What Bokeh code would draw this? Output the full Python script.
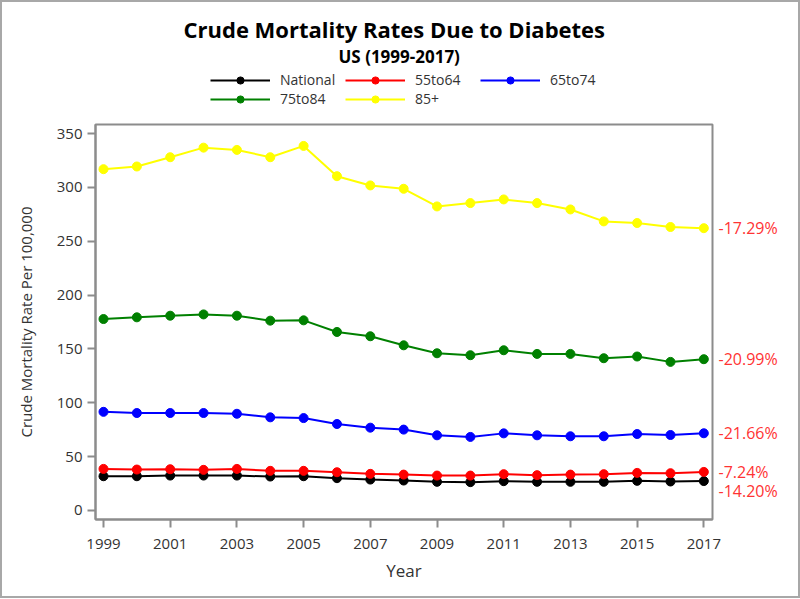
from bokeh.plotting import figure
from bokeh.layouts import column
from bokeh.models import Legend, LegendItem, Title, LinearAxis, FixedTicker, Range1d
from bokeh.embed import file_html
from bokeh.resources import INLINE

years = list(range(1999, 2018))
national = [31.8, 31.8, 32.4, 32.4, 32.4, 31.5, 31.8, 30.0, 28.7, 27.8, 26.6, 26.3, 27.2, 26.6, 26.6, 26.6, 27.5, 26.9, 27.3]
age_55to64 = [38.6, 38.0, 38.3, 37.7, 38.6, 36.8, 36.8, 35.5, 34.0, 33.3, 32.4, 32.4, 33.7, 32.8, 33.3, 33.7, 34.9, 34.6, 35.8]
age_65to74 = [91.6, 90.5, 90.5, 90.5, 89.8, 86.5, 85.8, 80.3, 76.9, 75.1, 69.8, 68.3, 71.6, 69.8, 68.9, 68.9, 71.0, 70.1, 71.7]
age_75to84 = [177.8, 179.4, 180.9, 182.1, 180.9, 176.3, 176.6, 165.8, 161.8, 153.4, 146.0, 144.2, 148.8, 145.4, 145.4, 141.4, 143.0, 138.0, 140.5]
age_85plus = [317.0, 319.5, 328.1, 337.0, 334.9, 328.1, 338.6, 310.5, 301.9, 298.8, 282.4, 285.5, 288.9, 285.5, 279.6, 268.5, 267.0, 263.3, 262.2]

series_names = ["National", "55to64", "65to74", "75to84", "85+"]
series_values = [national, age_55to64, age_65to74, age_75to84, age_85plus]
series_colors = ["black", "#ff0000", "#0000ff", "#008000", "#ffff00"]
change_labels = ["-14.20%", "-7.24%", "-21.66%", "-20.99%", "-17.29%"]

x_ticks = years[::2]
y_ticks = [0, 50, 100, 150, 200, 250, 300, 350]

FONT = "Open Sans"
GRAY = "#8c8c8c"
TEXT = "#333333"
EDGE = "#a8a8a8"

# ---- header figure: titles + legend (its ranges keep the series out of view) ----
head = figure(width=800, height=122, output_backend="svg", toolbar_location=None,
              x_range=Range1d(0, 1), y_range=Range1d(0, 1),
              x_axis_type=None, y_axis_type=None,
              min_border_left=0, min_border_right=0, min_border_bottom=0, min_border_top=67)
head.outline_line_color = None
head.xgrid.visible = False
head.ygrid.visible = False
head.border_fill_alpha = 0
head.background_fill_alpha = 0
head.styles = {"box-shadow": f"inset 2px 2px 0 {EDGE}, inset -2px 0 0 {EDGE}"}

items = []
for name, vals, col in zip(series_names, series_values, series_colors):
    ln = head.line(years, vals, line_color=col, line_width=2)
    sc = head.scatter(years, vals, size=9, fill_color=col, line_color=col)
    items.append(LegendItem(label=name, renderers=[ln, sc]))

legend = Legend(items=items, orientation="horizontal", ncols=3, location=(115, 14),
                glyph_width=60, glyph_height=18, label_height=18, label_width=65,
                label_standoff=10, spacing=0, padding=0, margin=0,
                border_line_color=None, background_fill_alpha=0,
                label_text_font=FONT, label_text_font_size="14px", label_text_color=TEXT)
head.add_layout(legend, "center")

sub = Title(text="US (1999-2017)", align="left", offset=243, text_font=FONT,
            text_font_size="17px", text_font_style="bold", text_color="black", standoff=0)
head.add_layout(sub, "above")
main = Title(text="Crude Mortality Rates Due to Diabetes", align="left", offset=88, text_font=FONT,
             text_font_size="22px", text_font_style="bold", text_color="black", standoff=-3)
head.add_layout(main, "above")

# ---- main chart ----
p = figure(width=800, height=476, output_backend="svg", toolbar_location=None,
           x_range=Range1d(1998.76, 2017.26), y_range=Range1d(-8.4, 358.5),
           min_border_left=95, min_border_right=88, min_border_top=2, min_border_bottom=79)
p.xgrid.visible = False
p.ygrid.visible = False
p.outline_line_color = GRAY
p.outline_line_width = 2
p.border_fill_alpha = 0
p.styles = {"box-shadow": f"inset 2px 0 0 {EDGE}, inset -2px -2px 0 {EDGE}"}

for name, vals, col in zip(series_names, series_values, series_colors):
    p.line(years, vals, line_color=col, line_width=2)
    p.scatter(years, vals, size=9, fill_color=col, line_color=col)

for ax in (p.xaxis[0], p.yaxis[0]):
    ax.axis_line_color = GRAY
    ax.axis_line_width = 2
    ax.major_tick_line_color = GRAY
    ax.major_tick_line_width = 2
    ax.major_tick_out = 8
    ax.major_tick_in = 0
    ax.minor_tick_line_color = None
    ax.major_label_text_font = FONT
    ax.major_label_text_font_size = "15px"
    ax.major_label_text_color = TEXT
    ax.axis_label_text_font = FONT
    ax.axis_label_text_font_style = "normal"
    ax.axis_label_text_color = TEXT

p.xaxis.axis_label_text_font_size = "17px"
p.yaxis.axis_label_text_font_size = "15px"
p.xaxis.ticker = FixedTicker(ticks=x_ticks, minor_ticks=[])
p.yaxis.ticker = FixedTicker(ticks=y_ticks, minor_ticks=[])
p.xaxis.axis_label = "Year"
p.yaxis.axis_label = "Crude Mortality Rate Per 100,000"
p.xaxis.major_label_standoff = 11
p.yaxis.major_label_standoff = 5
p.xaxis.axis_label_standoff = 7
p.yaxis.axis_label_standoff = 18

# right-side percentage labels, spread apart when they would overlap
end_vals = [v[-1] for v in series_values]
order = sorted(range(len(end_vals)), key=lambda i: -end_vals[i])
label_pos = [0.0] * len(end_vals)
prev = None
gap = 18.0
for i in order:
    v = end_vals[i]
    if prev is not None and prev - v < gap:
        v = prev - gap
    label_pos[i] = v
    prev = v

right = LinearAxis(ticker=FixedTicker(ticks=label_pos, minor_ticks=[]),
                   major_label_overrides={label_pos[i]: change_labels[i] for i in range(len(label_pos))})
right.axis_line_color = None
right.major_tick_line_color = None
right.major_tick_out = 0
right.major_tick_in = 0
right.minor_tick_line_color = None
right.major_label_standoff = 6
right.major_label_text_color = "#ff3333"
right.major_label_text_font = FONT
right.major_label_text_font_size = "16px"
p.add_layout(right, "right")

layout = column(head, p, spacing=0)
open("out.html", "w").write(file_html(layout, INLINE))
